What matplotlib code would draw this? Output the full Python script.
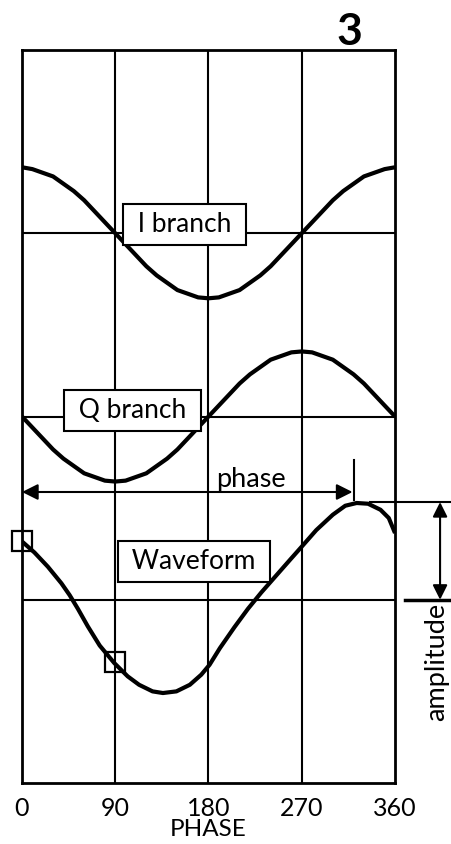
import matplotlib
matplotlib.use("Agg")
import matplotlib.pyplot as plt

plt.rcParams['font.family'] = ['Lato', 'DejaVu Sans']

# ---- data ----
phase_ticks = [0, 90, 180, 270, 360]
tick_labels = ["0", "90", "180", "270", "360"]

iq_phase = [0, 10, 20, 30, 40, 50, 60, 70, 80, 90, 100, 110, 120, 130, 140, 150, 160, 170, 180,
            190, 200, 210, 220, 230, 240, 250, 260, 270, 280, 290, 300, 310, 320, 330, 340, 350, 360]
i_branch = [3.36, 3.35, 3.33, 3.31, 3.27, 3.23, 3.18, 3.12, 3.06, 3.00, 2.94, 2.88, 2.82,
            2.77, 2.73, 2.69, 2.67, 2.65, 2.645, 2.65, 2.67, 2.69, 2.73, 2.77, 2.82, 2.88,
            2.94, 3.00, 3.06, 3.12, 3.18, 3.23, 3.27, 3.31, 3.33, 3.35, 3.36]
q_branch = [2.00, 1.94, 1.88, 1.82, 1.77, 1.73, 1.69, 1.67, 1.65, 1.645, 1.65, 1.67, 1.69,
            1.73, 1.77, 1.82, 1.88, 1.94, 2.00, 2.06, 2.12, 2.18, 2.23, 2.27, 2.31, 2.33,
            2.35, 2.355, 2.35, 2.33, 2.31, 2.27, 2.23, 2.18, 2.12, 2.06, 2.00]

wave_phase = [0, 12, 25, 38, 46, 54, 63.5, 75, 89, 102, 113, 126, 136, 149, 162, 173, 181,
              191, 205, 218, 231, 245, 259, 270, 284, 300, 312, 323, 334, 346, 354, 360]
wave_amp = [1.318, 1.258, 1.180, 1.090, 1.025, 0.950, 0.855, 0.750, 0.655, 0.582, 0.536,
            0.500, 0.491, 0.500, 0.536, 0.591, 0.645, 0.736, 0.850, 0.950, 1.040, 1.130,
            1.220, 1.290, 1.380, 1.464, 1.513, 1.528, 1.524, 1.491, 1.446, 1.364]

marker_phase = [0, 90]
marker_amp = [1.32, 0.66]

row_levels = [1, 2, 3]
col_levels = [90, 180, 270]

phase_arrow_end = 320
peak_amp = 1.533
base_amp = 1.0

# ---- figure ----
fig = plt.figure(figsize=(4.52, 8.44), dpi=100)
ax = fig.add_axes([22/452, 1-783/844, 373/452, 733/844])
ax.set_xlim(0, 360)
ax.set_ylim(0, 4)

for v in col_levels:
    ax.axvline(v, color='black', lw=1.5, zorder=1)
for h in row_levels:
    ax.axhline(h, color='black', lw=1.5, zorder=1)
for s in ax.spines.values():
    s.set_linewidth(2.0)

line_kw = dict(color='black', lw=3.0, zorder=3, solid_capstyle='butt', solid_joinstyle='round')
ax.plot(iq_phase, i_branch, **line_kw)
ax.plot(iq_phase, q_branch, **line_kw)
ax.plot(wave_phase, wave_amp, **line_kw)
ax.plot(marker_phase, marker_amp, linestyle='none', marker='s', ms=15,
        mfc='none', mec='black', mew=1.6, zorder=4, clip_on=False)

box = dict(boxstyle='square,pad=0.3', fc='white', ec='black', lw=1.5)
ax.text(157, 3.05, " I branch ", ha='center', va='center', fontsize=19, bbox=box, zorder=5)
ax.text(107, 2.035, " Q branch ", ha='center', va='center', fontsize=19, bbox=box, zorder=5)
ax.text(166, 1.211, " Waveform ", ha='center', va='center', fontsize=19, bbox=box, zorder=5)

# phase arrow
ax.annotate("", xy=(0, 1.588), xytext=(phase_arrow_end - 1, 1.588),
            arrowprops=dict(arrowstyle='<|-|>', color='black', lw=1.5,
                            mutation_scale=24, shrinkA=0, shrinkB=0), zorder=5)
ax.plot([phase_arrow_end, phase_arrow_end], [1.545, 1.763], color='black', lw=1.5, zorder=5)
ax.text(221, 1.615, "phase", ha='center', va='baseline', fontsize=19.5, zorder=5)

# amplitude dimension
ax.plot([336, 416], [peak_amp, peak_amp], color='black', lw=1.5, clip_on=False)
ax.plot([369.5, 416], [base_amp, base_amp], color='black', lw=2.5, clip_on=False)
ax.annotate("", xy=(403.5, base_amp), xytext=(403.5, peak_amp),
            arrowprops=dict(arrowstyle='<|-|>', color='black', lw=1.5,
                            mutation_scale=22, shrinkA=0, shrinkB=0),
            annotation_clip=False)
ax.text(400.5, 0.66, "amplitude", rotation=90, ha='center', va='center',
        fontsize=19.5, clip_on=False)

ax.set_xticks(phase_ticks)
ax.set_xticklabels(tick_labels, fontsize=18)
ax.set_yticks([])
ax.tick_params(axis='x', length=0, pad=10)
ax.set_xlabel("PHASE", fontsize=17.5, labelpad=-1)

fig.text(349/452, 1-32/844, "3", ha='center', va='center', fontsize=32, fontweight='bold')

fig.savefig("out.png", dpi=100)
